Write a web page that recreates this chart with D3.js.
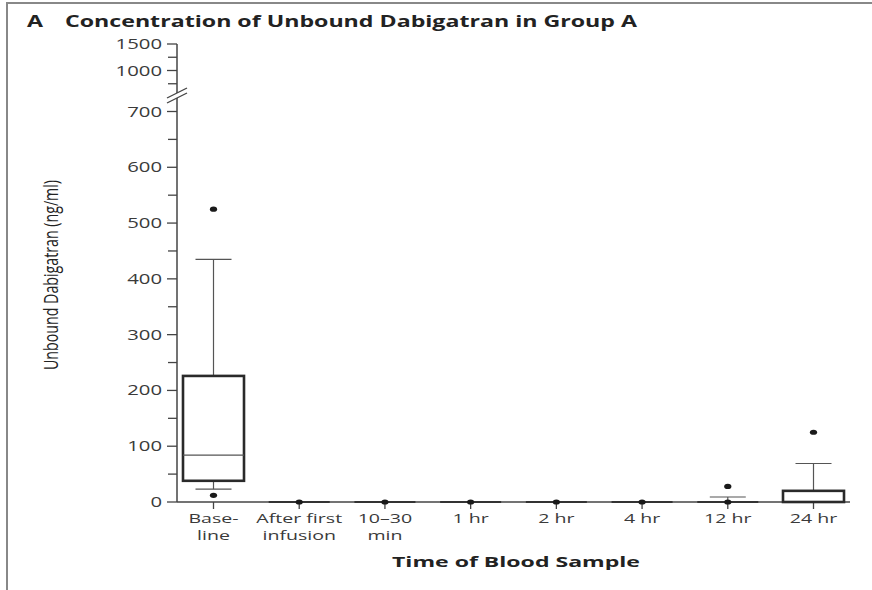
<!DOCTYPE html>
<html>
<head>
<meta charset="utf-8">
<script src="https://cdn.jsdelivr.net/npm/d3@7"></script>
<style>
  body { margin: 0; background: #fff; }
  svg { display: block; }
</style>
</head>
<body>
<svg width="872" height="590"></svg>
<script>
// categories and box statistics (ng/ml)
var categories = [['Base-', 'line'], ['After first', 'infusion'], ['10\u201330', 'min'], ['1 hr'], ['2 hr'], ['4 hr'], ['12 hr'], ['24 hr']];
var q1 = [38, 0, 0, 0, 0, 0, 0, 0];
var median = [84, 0, 0, 0, 0, 0, 0, 0];
var q3 = [226, 0, 0, 0, 0, 0, 0, 20];
var whiskerLow = [23, 0, 0, 0, 0, 0, 0, 0];
var whiskerHigh = [435, 0, 0, 0, 0, 0, 9, 69];
var outliers = [[525, 12], [0], [0], [0], [0], [0], [28, 0], [125]];

var lowerTicks = [0, 100, 200, 300, 400, 500, 600, 700];
var lowerMinor = [50, 150, 250, 350, 450, 550, 650];
var upperTicks = [1000, 1500];
var upperMinor = [750, 1250];

var svg = d3.select('svg');
var font = "'Open Sans', 'DejaVu Sans', sans-serif";
var sx = 1.45; // the original figure is stretched sideways

// text helper: puts a string at (x, y), widened by sx
function label(parent, x, y, str, size, anchor, weight, color) {
  parent.append('g').attr('transform', 'translate(' + x + ',' + y + ') scale(' + sx + ',1)')
    .append('text')
    .attr('font-family', font)
    .attr('font-size', size)
    .attr('font-weight', weight || 'normal')
    .attr('text-anchor', anchor || 'start')
    .attr('fill', color || '#3a3a3a')
    .text(str);
}

// frame lines
svg.append('line').attr('x1', 7).attr('x2', 7).attr('y1', 2).attr('y2', 590)
  .attr('stroke', '#888').attr('stroke-width', 2);
svg.append('line').attr('x1', 6).attr('x2', 872).attr('y1', 3).attr('y2', 3)
  .attr('stroke', '#888').attr('stroke-width', 2);

var x0 = 177;
var xScale = d3.scalePoint().domain(d3.range(categories.length)).range([213.5, 813.5]);
var yLow = d3.scaleLinear().domain([0, 700]).range([502, 111.5]);
var yHigh = d3.scaleLinear().domain([1000, 1500]).range([70.5, 44]);
function y(v) { return v > 700 ? yHigh(v) : yLow(v); }

// title
svg.append('text').attr('x', 27).attr('y', 27).attr('font-family', font)
  .attr('font-weight', 'bold').attr('font-size', 16.5).attr('fill', '#222')
  .attr('textLength', 16).attr('lengthAdjust', 'spacingAndGlyphs').text('A');
svg.append('text').attr('x', 65).attr('y', 27).attr('font-family', font)
  .attr('font-weight', 'bold').attr('font-size', 16.5).attr('fill', '#222')
  .attr('textLength', 572).attr('lengthAdjust', 'spacingAndGlyphs')
  .text('Concentration of Unbound Dabigatran in Group A');

// y axis
var axisColor = '#444';
var g = svg.append('g');
g.append('line').attr('x1', x0).attr('x2', x0).attr('y1', yHigh(1500)).attr('y2', 93)
  .attr('stroke', axisColor).attr('stroke-width', 1.5);
g.append('line').attr('x1', x0).attr('x2', x0).attr('y1', 98).attr('y2', yLow(0))
  .attr('stroke', axisColor).attr('stroke-width', 1.5);
// break marks
[0, 5].forEach(function(d) {
  g.append('line').attr('x1', x0 - 10).attr('y1', 98 + d).attr('x2', x0 + 10).attr('y2', 88 + d)
    .attr('stroke', axisColor).attr('stroke-width', 1.3);
});

function tickSet(ticks, scale, len, withLabel) {
  ticks.forEach(function(t) {
    g.append('line').attr('x1', x0 - len).attr('x2', x0).attr('y1', scale(t)).attr('y2', scale(t))
      .attr('stroke', axisColor).attr('stroke-width', 1.3);
    if (withLabel) label(g, x0 - 15, scale(t) + 5, String(t), 14, 'end');
  });
}
tickSet(lowerTicks, yLow, 10, true);
tickSet(lowerMinor, yLow, 9, false);
tickSet(upperTicks, yHigh, 10, true);
tickSet(upperMinor, yHigh, 9, false);

// y label
svg.append('g').attr('transform', 'translate(58,275) scale(' + sx + ',1) rotate(-90)')
  .append('text').attr('text-anchor', 'middle')
  .attr('font-family', font).attr('font-size', 14).attr('fill', '#222')
  .attr('textLength', 190).attr('lengthAdjust', 'spacingAndGlyphs')
  .text('Unbound Dabigatran (ng/ml)');

// x axis
g.append('line').attr('x1', x0).attr('x2', 850).attr('y1', yLow(0)).attr('y2', yLow(0))
  .attr('stroke', axisColor).attr('stroke-width', 1.5);
categories.forEach(function(c, i) {
  var cx = xScale(i);
  g.append('line').attr('x1', cx).attr('x2', cx).attr('y1', yLow(0)).attr('y2', yLow(0) + 7)
    .attr('stroke', axisColor).attr('stroke-width', 1.3);
  c.forEach(function(s, j) {
    label(g, cx, 523 + j * 17, s, 13.5, 'middle');
  });
});
svg.append('text').attr('x', 392).attr('y', 567)
  .attr('font-family', font).attr('font-weight', 'bold').attr('font-size', 15).attr('fill', '#222')
  .attr('textLength', 248).attr('lengthAdjust', 'spacingAndGlyphs')
  .text('Time of Blood Sample');

// boxes
var boxW = 61, capW = 36;
var boxes = svg.append('g');
categories.forEach(function(c, i) {
  var cx = xScale(i);
  var b = boxes.append('g');
  if (whiskerHigh[i] > q3[i]) {
    b.append('line').attr('x1', cx).attr('x2', cx).attr('y1', y(q3[i])).attr('y2', y(whiskerHigh[i]))
      .attr('stroke', '#555').attr('stroke-width', 1.2);
    b.append('line').attr('x1', cx - capW / 2).attr('x2', cx + capW / 2)
      .attr('y1', y(whiskerHigh[i])).attr('y2', y(whiskerHigh[i]))
      .attr('stroke', '#555').attr('stroke-width', 1.2);
  }
  if (whiskerLow[i] < q1[i]) {
    b.append('line').attr('x1', cx).attr('x2', cx).attr('y1', y(q1[i])).attr('y2', y(whiskerLow[i]))
      .attr('stroke', '#555').attr('stroke-width', 1.2);
    b.append('line').attr('x1', cx - capW / 2).attr('x2', cx + capW / 2)
      .attr('y1', y(whiskerLow[i])).attr('y2', y(whiskerLow[i]))
      .attr('stroke', '#555').attr('stroke-width', 1.2);
  }
  if (q3[i] > q1[i]) {
    b.append('rect').attr('x', cx - boxW / 2).attr('y', y(q3[i]))
      .attr('width', boxW).attr('height', y(q1[i]) - y(q3[i]))
      .attr('fill', '#fff').attr('stroke', '#2a2a2a').attr('stroke-width', 2.6);
    if (median[i] > q1[i]) {
      b.append('line').attr('x1', cx - boxW / 2).attr('x2', cx + boxW / 2)
        .attr('y1', y(median[i])).attr('y2', y(median[i]))
        .attr('stroke', '#555').attr('stroke-width', 1.2);
    }
  } else {
    b.append('line').attr('x1', cx - boxW / 2).attr('x2', cx + boxW / 2)
      .attr('y1', y(q1[i])).attr('y2', y(q1[i]))
      .attr('stroke', '#333').attr('stroke-width', 2);
  }
  outliers[i].forEach(function(v) {
    b.append('ellipse').attr('cx', cx).attr('cy', y(v)).attr('rx', 3.6).attr('ry', 2.6)
      .attr('fill', '#1a1a1a');
  });
});
</script>
</body>
</html>
